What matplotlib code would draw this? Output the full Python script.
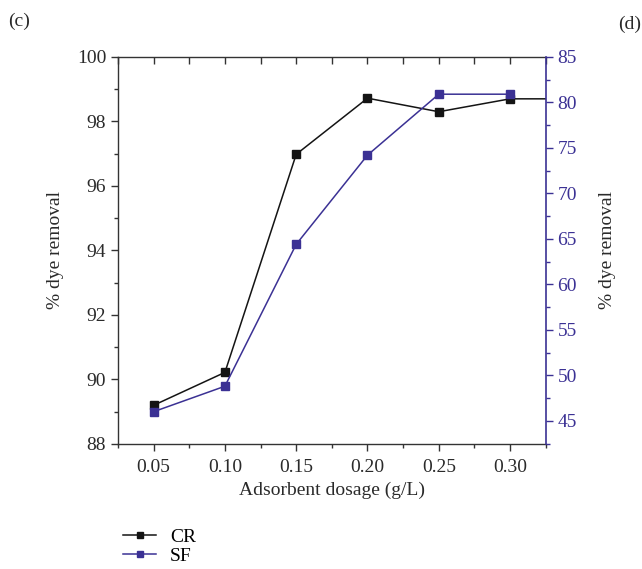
import matplotlib
matplotlib.use('Agg')
import matplotlib.pyplot as plt
from matplotlib.ticker import MultipleLocator

plt.rcParams['font.family'] = ['Liberation Serif', 'DejaVu Serif']

dosage = [0.05, 0.10, 0.15, 0.20, 0.25, 0.30]
# CR line runs on to the right edge at the last level
dosage_cr = dosage + [0.35]
cr_removal = [89.2, 90.22, 96.98, 98.72, 98.3, 98.7, 98.7]
sf_removal = [46.0, 48.8, 64.4, 74.2, 80.9, 80.9]

blue = '#3b3194'
dark = '#141414'
tick_color = '#333333'

fig = plt.figure(figsize=(6.42, 5.69), dpi=100)
ax = fig.add_axes([0.1838, 0.2197, 0.6662, 0.6803])
ax2 = ax.twinx()

ax.plot(dosage_cr, cr_removal, color=dark, lw=1.1, marker='s', ms=5.5,
        mec=dark, mfc=dark, label='CR', zorder=3)
ax2.plot(dosage, sf_removal, color=blue, lw=1.1, marker='s', ms=5.5,
         mec=blue, mfc=blue, label='SF', zorder=3)

ax.set_xlim(0.025, 0.325)
ax.set_ylim(88, 100)
ax2.set_ylim(42.45, 85)

ax.xaxis.set_major_locator(MultipleLocator(0.05))
ax.xaxis.set_minor_locator(MultipleLocator(0.025))
ax.yaxis.set_major_locator(MultipleLocator(2))
ax.yaxis.set_minor_locator(MultipleLocator(1))
ax2.yaxis.set_major_locator(MultipleLocator(5))
ax2.yaxis.set_minor_locator(MultipleLocator(2.5))

ax.set_xticks(dosage)
ax.set_xticklabels(['0.05', '0.10', '0.15', '0.20', '0.25', '0.30'])

for s in ['left', 'bottom', 'top']:
    ax.spines[s].set_color(tick_color)
    ax.spines[s].set_linewidth(1.0)
ax.spines['right'].set_visible(False)
ax2.spines['right'].set_color(blue)
ax2.spines['right'].set_linewidth(1.2)
for s in ['left', 'bottom', 'top']:
    ax2.spines[s].set_visible(False)

ax.tick_params(axis='x', which='major', direction='out', length=5, width=1,
               colors=tick_color, labelsize=14, labelcolor='#2a2a2a', pad=6)
ax.tick_params(axis='x', which='minor', direction='out', length=3, width=1,
               colors=tick_color)
ax.tick_params(axis='y', which='major', direction='out', length=5, width=1,
               colors=tick_color, labelsize=14, labelcolor='#2a2a2a')
ax.tick_params(axis='y', which='minor', direction='out', length=3, width=1,
               colors=tick_color)
ax2.tick_params(axis='y', which='major', direction='out', length=5, width=1,
                colors=blue, labelsize=14, labelcolor=blue)
ax2.tick_params(axis='y', which='minor', direction='out', length=3, width=1,
                colors=blue)

# ticks on the top spine, pointing in
top = ax.secondary_xaxis('top')
top.set_xticks([0.025 + 0.025 * i for i in range(13)])
top.tick_params(direction='in', length=5, width=1, colors=tick_color,
                labeltop=False)
top.spines['top'].set_visible(False)

ax.set_xlabel('Adsorbent dosage (g/L)', fontsize=14, color='#2a2a2a',
              labelpad=4)
ax.set_ylabel('% dye removal', fontsize=14, color='#2a2a2a', labelpad=9)
ax2.set_ylabel('% dye removal', fontsize=14, color='#2a2a2a', labelpad=16)

fig.text(0.012, 0.962, '(c)', fontsize=14, color='#2a2a2a', va='center')
fig.text(0.963, 0.958, '(d)', fontsize=14, color='#2a2a2a', va='center')

h1, l1 = ax.get_legend_handles_labels()
h2, l2 = ax2.get_legend_handles_labels()
fig.legend(h1 + h2, l1 + l2, loc='upper left', bbox_to_anchor=(0.18, 0.085),
           frameon=False, fontsize=14, handlelength=1.7, handletextpad=0.7,
           labelspacing=0.05, borderaxespad=0, markerscale=0.75)

fig.savefig('out.png', dpi=100)
